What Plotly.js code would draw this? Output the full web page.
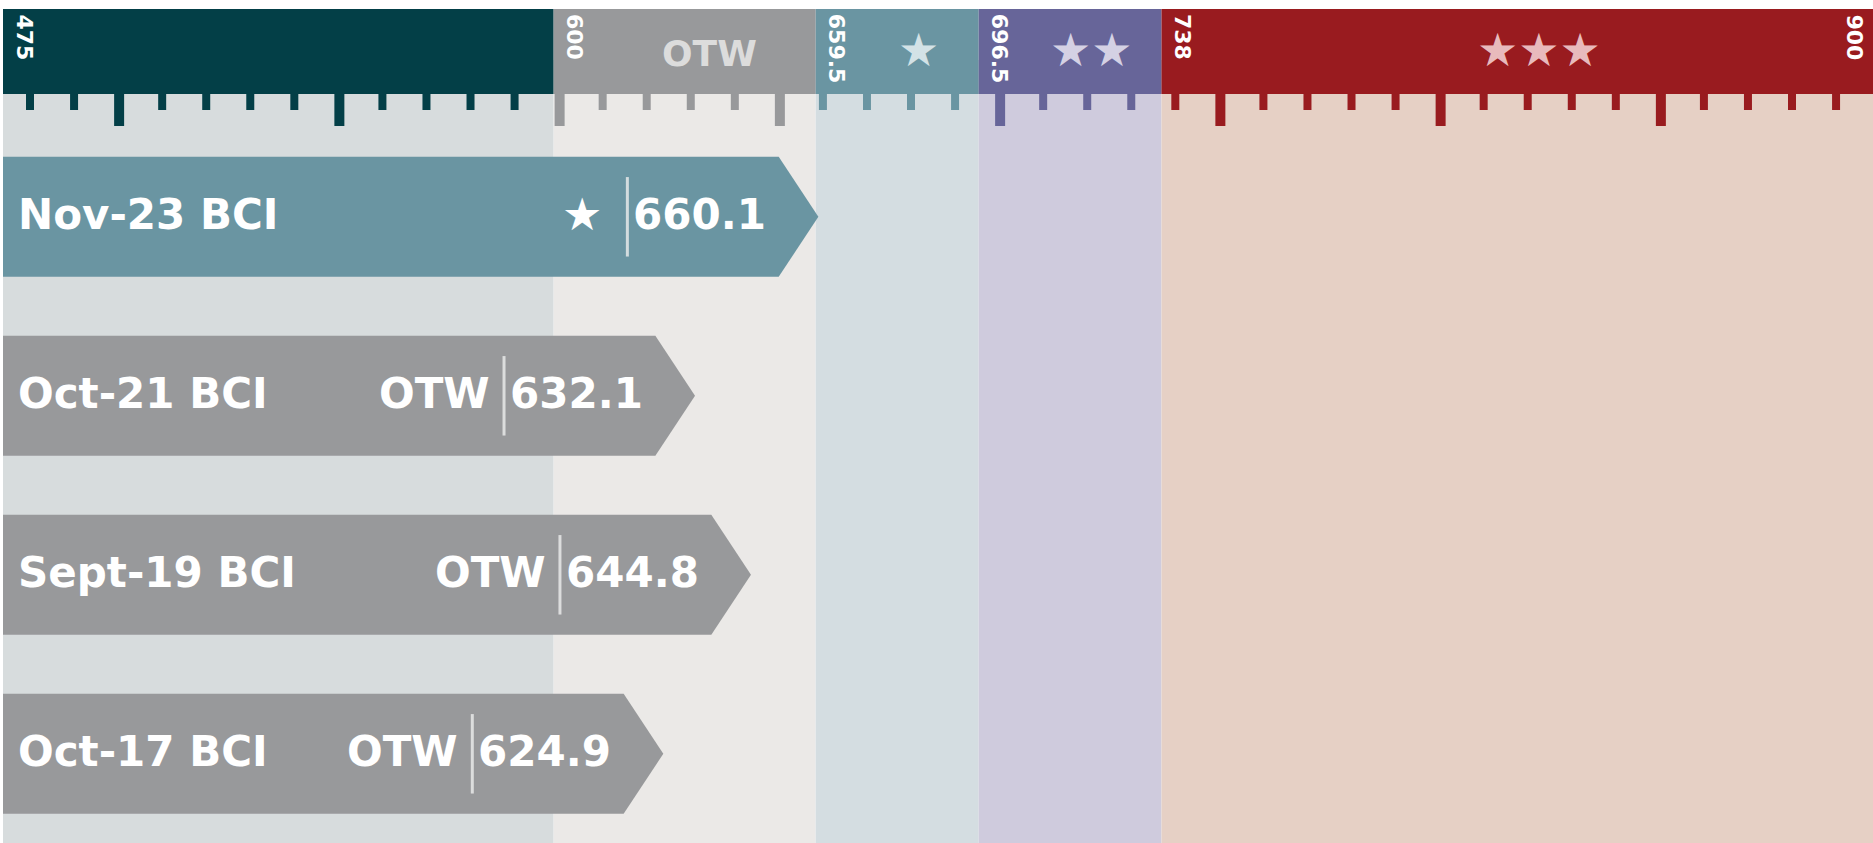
<!DOCTYPE html>
<html><head><meta charset="utf-8">
<script src="https://cdn.plot.ly/plotly-3.0.1.min.js"></script>
<style>html,body{margin:0;padding:0;overflow:hidden;background:#fff}</style>
</head><body><div id="chart" style="width:1873px;height:843px"></div>
<script>
// ---- data ----
const barLabels = ["Nov-23 BCI", "Oct-21 BCI", "Sept-19 BCI", "Oct-17 BCI"];
const barValues = [660.1, 632.1, 644.8, 624.9];
const barLevels = ["★", "OTW", "OTW", "OTW"];
const zoneEdges = [475, 600, 659.5, 696.5, 738, 900];
const edgeLabels = ["475", "600", "659.5", "696.5", "738", "900"];
const zoneNames = ["", "OTW", "★", "★★", "★★★"];
const tickFrom = 480, tickTo = 890, tickStep = 10, majorStep = 50;

// ---- styles ----
const zoneHeadColors = ["#033f47", "#98999b", "#6a95a2", "#676599", "#991b1f"];
const zoneBgColors   = ["#d7dcdd", "#ebe9e7", "#d4dde1", "#cfcbdd", "#e6d0c5"];
const zoneNameColors = ["#ffffff", "#dcdcdc", "#d3e2e6", "#d4d1e4", "#e8babc"];
const barColors      = ["#6a95a2", "#98999b", "#98999b", "#98999b"];
const FONT = "DejaVu Sans";
const W = 1873, H = 843;
const TIP = 9.0;       // arrow tip depth (x units)
const HALF = 0.335;    // half bar height (y units)
const XMIN = 474.32, XMAX = 899.52;

function zoneIndex(v) {
  for (let i = 0; i < zoneEdges.length - 1; i++) {
    if (v >= zoneEdges[i] && v < zoneEdges[i + 1]) return i;
  }
  return zoneEdges.length - 2;
}

const traces = barValues.map((v, i) => ({
  type: "scatter", mode: "lines", fill: "toself",
  x: [zoneEdges[0], v - TIP, v, v - TIP, zoneEdges[0], zoneEdges[0]],
  y: [i - HALF, i - HALF, i, i + HALF, i + HALF, i - HALF],
  fillcolor: barColors[i], line: {width: 0, color: barColors[i]},
  hoverinfo: "skip", showlegend: false
}));

const shapes = [];
// zone backgrounds
for (let i = 0; i < zoneEdges.length - 1; i++) {
  shapes.push({type: "rect", layer: "below", xref: "x", yref: "paper",
    x0: zoneEdges[i], x1: zoneEdges[i + 1], y0: 0, y1: 1 - 60 / H,
    fillcolor: zoneBgColors[i], line: {width: 0}});
}
// header band
for (let i = 0; i < zoneEdges.length - 1; i++) {
  shapes.push({type: "rect", layer: "below", xref: "x", yref: "paper",
    ysizemode: "pixel", yanchor: 1, y0: -9, y1: -94,
    x0: zoneEdges[i], x1: zoneEdges[i + 1],
    fillcolor: zoneHeadColors[i], line: {width: 0}});
}
// ruler ticks
for (let t = tickFrom; t <= tickTo; t += tickStep) {
  const major = (t % majorStep === 0);
  shapes.push({type: "rect", layer: "below", xref: "x", yref: "paper",
    xsizemode: "pixel", xanchor: t, x0: 1, x1: major ? 11 : 9,
    ysizemode: "pixel", yanchor: 1, y0: -93, y1: major ? -126 : -110,
    fillcolor: zoneHeadColors[zoneIndex(t)], line: {width: 0}});
}
// separators inside bars
barValues.forEach((v, i) => {
  shapes.push({type: "line", layer: "above", xref: "x", yref: "y",
    xsizemode: "pixel", xanchor: v, x0: -191, x1: -191,
    y0: i - 0.222, y1: i + 0.222,
    line: {color: "rgba(238,238,238,0.8)", width: 3}});
});

const annotations = [];
edgeLabels.forEach((lab, i) => {
  const v = zoneEdges[i];
  const inside = v <= XMAX;
  annotations.push({text: lab, xref: inside ? "x" : "paper", yref: "paper",
    x: inside ? v : 1, y: 1,
    xanchor: inside ? "left" : "right", yanchor: "top",
    xshift: inside ? 7 : -4, yshift: -12, textangle: 90, showarrow: false,
    font: {family: FONT, size: 22, color: "#ffffff", weight: "bold"}});
});
zoneNames.forEach((nm, i) => {
  if (!nm) return;
  const star = nm.indexOf("★") >= 0;
  annotations.push({text: nm, xref: "x", yref: "paper",
    x: (zoneEdges[i] + zoneEdges[i + 1]) / 2, y: 1,
    xanchor: "center", yanchor: "middle", xshift: star ? 21 : 25, yshift: star ? -50 : -53,
    showarrow: false,
    font: {family: FONT, size: star ? 46 : 36, color: zoneNameColors[i], weight: "bold"}});
});
barValues.forEach((v, i) => {
  const f = {family: FONT, size: 42, color: "#ffffff", weight: "bold"};
  const star = barLevels[i].indexOf("★") >= 0;
  annotations.push({text: barLabels[i], xref: "x", yref: "y", x: zoneEdges[0], y: i,
    xanchor: "left", yanchor: "middle", xshift: 13, yshift: 2, showarrow: false, font: f});
  annotations.push({text: v.toFixed(1), xref: "x", yref: "y", x: v, y: i,
    xanchor: "right", yanchor: "middle", xshift: -50, yshift: 2, showarrow: false, font: f});
  annotations.push({text: barLevels[i], xref: "x", yref: "y", x: v, y: i,
    xanchor: "right", yanchor: "middle", xshift: star ? -214 : -203, yshift: 2,
    showarrow: false, font: Object.assign({}, f, {size: star ? 45 : 42})});
});

const layout = {
  width: W, height: H, margin: {l: 0, r: 0, t: 0, b: 0, pad: 0},
  paper_bgcolor: "#ffffff", plot_bgcolor: "rgba(0,0,0,0)",
  xaxis: {range: [XMIN, XMAX], visible: false, fixedrange: true},
  yaxis: {range: [3.4983, -1.2112], visible: false, fixedrange: true},
  shapes: shapes, annotations: annotations, showlegend: false
};
Plotly.newPlot("chart", traces, layout, {displayModeBar: false, staticPlot: true});
</script></body></html>
